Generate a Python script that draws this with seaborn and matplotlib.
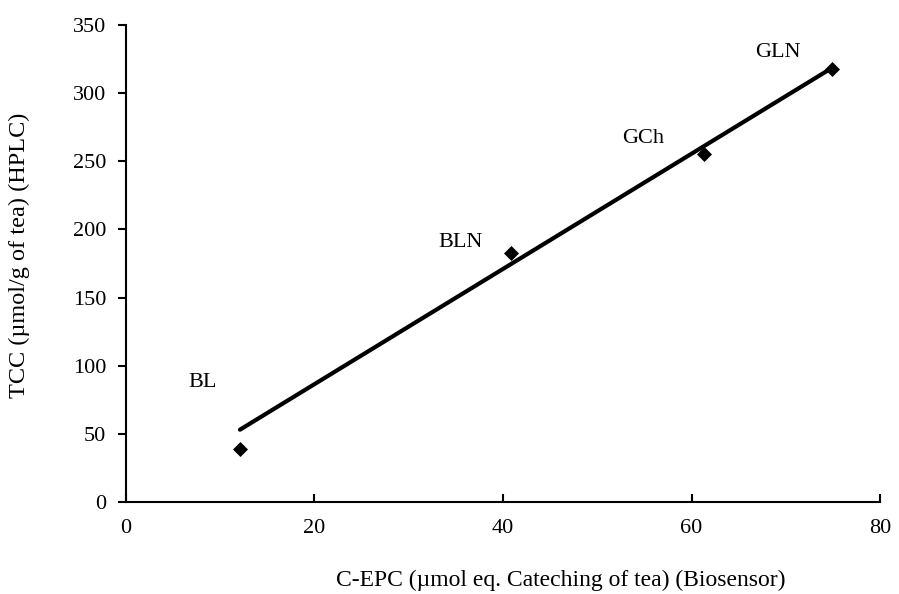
import matplotlib
matplotlib.use("Agg")
import matplotlib.pyplot as plt
import seaborn as sns
import pandas as pd

samples = ["BL", "BLN", "GCh", "GLN"]
cepc = [12.1, 40.9, 61.3, 74.9]
tcc = [38.5, 182.5, 255.0, 318.0]
fit_x = [12.1, 74.9]
fit_y = [53.0, 318.5]
label_x = [6.6, 33.1, 52.6, 66.7]
label_y = [88.0, 190.0, 267.0, 330.0]
x_ticks = [0, 20, 40, 60, 80]
y_ticks = [0, 50, 100, 150, 200, 250, 300, 350]

sns.set_theme(style="white", rc={"text.color": "black", "axes.labelcolor": "black",
                                 "xtick.color": "black", "ytick.color": "black"})
plt.rcParams['font.family'] = ['Liberation Serif', 'DejaVu Serif']

df = pd.DataFrame({"x": cepc, "y": tcc, "s": samples})
fit = pd.DataFrame({"x": fit_x, "y": fit_y})

fig = plt.figure(figsize=(8.99, 5.94), dpi=100)
ax = fig.add_axes([0.140, 0.155, 0.839, 0.803])

sns.lineplot(data=fit, x="x", y="y", ax=ax, color="black", linewidth=3)
sns.scatterplot(data=df, x="x", y="y", ax=ax, marker="D", color="black", s=50, edgecolor="black", zorder=3)

for s, lx, ly in zip(samples, label_x, label_y):
    ax.text(lx, ly, s, fontsize=16, ha="left", va="center", color="black")

ax.set_xlim(0, 80)
ax.set_ylim(0, 350)
ax.set_xticks(x_ticks)
ax.set_yticks(y_ticks)
ax.tick_params(axis="x", direction="in", length=6, width=1.5, labelsize=16, pad=12, colors="black")
ax.tick_params(axis="y", direction="out", length=6, width=1.5, labelsize=16, pad=8, colors="black")
ax.tick_params(bottom=True, left=True)
for side in ["top", "right"]:
    ax.spines[side].set_visible(False)
for side in ["left", "bottom"]:
    ax.spines[side].set_color("black")
    ax.spines[side].set_linewidth(1.5)

ax.set_xlabel("C-EPC (µmol eq. Cateching of tea) (Biosensor)", fontsize=17, va="center", ha="center", color="black")
ax.xaxis.set_label_coords(0.577, -0.164)
ax.set_ylabel("TCC (µmol/g of tea) (HPLC)", fontsize=17.5, va="center", ha="center", color="black")
ax.yaxis.set_label_coords(-0.141, 0.518)

fig.savefig("out.png", dpi=100)
